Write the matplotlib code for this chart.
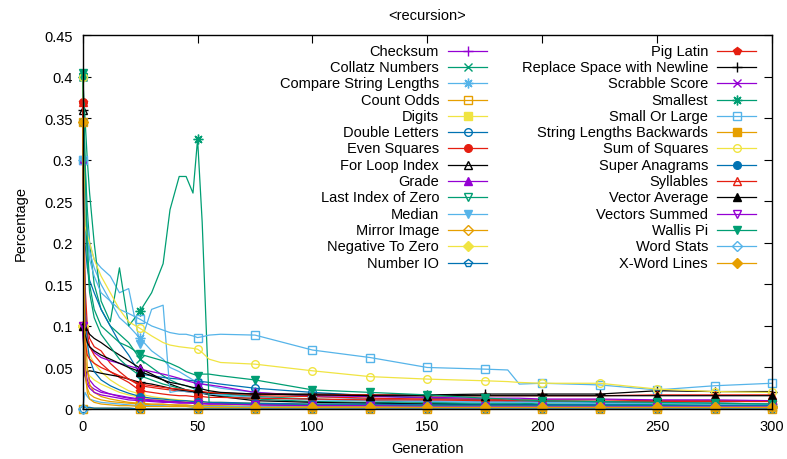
import numpy as np
import matplotlib
matplotlib.use("Agg")
import matplotlib.pyplot as plt
from matplotlib.ticker import FuncFormatter, MultipleLocator

plt.rcParams['font.family'] = ['Liberation Sans', 'DejaVu Sans']

gens = [0, 1, 2, 3, 5, 8, 12, 16, 20, 25, 30, 35, 38, 42, 45, 48, 50, 52, 55, 60,
        75, 100, 125, 150, 175, 185, 190, 200, 225, 250, 275, 300]

checksum = [0.1, 0.06, 0.045, 0.035, 0.028, 0.022, 0.018, 0.015, 0.013,
            0.011, 0.01, 0.009, 0.009, 0.008, 0.008, 0.007, 0.007, 0.007, 0.006,
            0.006, 0.005, 0.004, 0.004, 0.003, 0.003, 0.003, 0.003, 0.003, 0.003,
            0.002, 0.002, 0.002]
collatz = [0.4, 0.3, 0.24, 0.2, 0.15, 0.12, 0.1, 0.09, 0.08,
           0.06, 0.05, 0.04, 0.035, 0.03, 0.028, 0.025, 0.022, 0.02, 0.018,
           0.016, 0.012, 0.009, 0.008, 0.007, 0.006, 0.006, 0.006, 0.005, 0.005,
           0.005, 0.004, 0.004]
compare_lengths = [0.3, 0.27, 0.22, 0.19, 0.17, 0.15, 0.13, 0.11, 0.1,
                   0.085, 0.07, 0.06, 0.05, 0.045, 0.04, 0.035, 0.033, 0.03, 0.028,
                   0.025, 0.02, 0.015, 0.012, 0.01, 0.009, 0.009, 0.009, 0.008, 0.008,
                   0.007, 0.007, 0.006]
count_odds = [0.0, 0.002, 0.001, 0.001, 0.001, 0.001, 0.001, 0.001, 0.001,
              0.0, 0.0, 0.0, 0.0, 0.0, 0.0, 0.0, 0.0, 0.0, 0.0,
              0.0, 0.0, 0.0, 0.0, 0.0, 0.0, 0.0, 0.0, 0.0, 0.0,
              0.0, 0.0, 0.0]
digits = [0.1, 0.08, 0.07, 0.065, 0.055, 0.045, 0.035, 0.028, 0.022,
          0.018, 0.015, 0.013, 0.012, 0.011, 0.01, 0.01, 0.009, 0.009, 0.008,
          0.008, 0.007, 0.006, 0.005, 0.005, 0.004, 0.004, 0.004, 0.004, 0.003,
          0.003, 0.003, 0.003]
double_letters = [0.4, 0.2, 0.17, 0.155, 0.14, 0.12, 0.1, 0.08, 0.065,
                  0.042, 0.04, 0.038, 0.037, 0.036, 0.035, 0.034, 0.033, 0.033, 0.032,
                  0.03, 0.025, 0.02, 0.016, 0.013, 0.011, 0.01, 0.01, 0.009, 0.008,
                  0.007, 0.007, 0.006]
even_squares = [0.37, 0.15, 0.1, 0.085, 0.075, 0.07, 0.055, 0.045, 0.036,
                0.028, 0.026, 0.024, 0.023, 0.022, 0.021, 0.02, 0.02, 0.019, 0.018,
                0.018, 0.016, 0.015, 0.013, 0.012, 0.012, 0.011, 0.011, 0.011, 0.011,
                0.01, 0.01, 0.01]
for_loop = [0.36, 0.1, 0.095, 0.09, 0.085, 0.08, 0.072, 0.065, 0.058,
            0.049, 0.042, 0.035, 0.03, 0.026, 0.023, 0.021, 0.02, 0.019, 0.017,
            0.015, 0.01, 0.008, 0.007, 0.006, 0.005, 0.005, 0.005, 0.005, 0.004,
            0.004, 0.004, 0.004]
grade = [0.3, 0.12, 0.09, 0.075, 0.068, 0.062, 0.058, 0.055, 0.052,
         0.048, 0.045, 0.042, 0.04, 0.037, 0.034, 0.032, 0.03, 0.03, 0.029,
         0.027, 0.02, 0.016, 0.015, 0.014, 0.013, 0.013, 0.013, 0.012, 0.012,
         0.011, 0.011, 0.01]
last_index_zero = [0.4, 0.25, 0.18, 0.14, 0.11, 0.09, 0.075, 0.06, 0.05,
                   0.04, 0.035, 0.03, 0.028, 0.025, 0.023, 0.022, 0.021, 0.02, 0.019,
                   0.018, 0.015, 0.012, 0.01, 0.008, 0.007, 0.007, 0.007, 0.006, 0.006,
                   0.005, 0.005, 0.005]
median = [0.3, 0.25, 0.22, 0.2, 0.18, 0.17, 0.16, 0.14, 0.145,
          0.078, 0.12, 0.125, 0.02, 0.022, 0.021, 0.02, 0.02, 0.019, 0.018,
          0.017, 0.014, 0.011, 0.01, 0.009, 0.008, 0.008, 0.008, 0.008, 0.007,
          0.007, 0.006, 0.006]
mirror_image = [0.1, 0.04, 0.025, 0.018, 0.014, 0.011, 0.009, 0.008, 0.007,
                0.006, 0.005, 0.005, 0.005, 0.004, 0.004, 0.004, 0.004, 0.004, 0.004,
                0.003, 0.003, 0.003, 0.002, 0.002, 0.002, 0.002, 0.002, 0.002, 0.002,
                0.002, 0.002, 0.002]
negative_to_zero = [0.1, 0.06, 0.045, 0.04, 0.035, 0.03, 0.025, 0.02, 0.017,
                    0.014, 0.012, 0.011, 0.01, 0.009, 0.009, 0.008, 0.008, 0.008, 0.007,
                    0.007, 0.006, 0.005, 0.005, 0.004, 0.004, 0.004, 0.004, 0.004, 0.003,
                    0.003, 0.003, 0.003]
number_io = [0.0, 0.003, 0.002, 0.002, 0.001, 0.001, 0.001, 0.001, 0.001,
             0.0, 0.0, 0.0, 0.0, 0.0, 0.0, 0.0, 0.0, 0.0, 0.0,
             0.0, 0.0, 0.0, 0.0, 0.0, 0.0, 0.0, 0.0, 0.0, 0.0,
             0.0, 0.0, 0.0]
pig_latin = [0.37, 0.12, 0.09, 0.075, 0.065, 0.055, 0.045, 0.038, 0.032,
             0.022, 0.02, 0.018, 0.017, 0.016, 0.016, 0.015, 0.015, 0.015, 0.014,
             0.014, 0.013, 0.012, 0.011, 0.011, 0.01, 0.01, 0.01, 0.01, 0.009,
             0.009, 0.009, 0.009]
replace_space = [0.36, 0.04, 0.045, 0.046, 0.045, 0.043, 0.041, 0.039, 0.036,
                 0.032, 0.03, 0.027, 0.025, 0.023, 0.022, 0.021, 0.02, 0.02, 0.019,
                 0.019, 0.018, 0.018, 0.017, 0.017, 0.018, 0.018, 0.018, 0.018, 0.018,
                 0.022, 0.021, 0.021]
scrabble_score = [0.1, 0.05, 0.035, 0.028, 0.024, 0.02, 0.018, 0.016, 0.014,
                  0.012, 0.011, 0.01, 0.009, 0.009, 0.008, 0.008, 0.008, 0.007, 0.007,
                  0.007, 0.006, 0.005, 0.005, 0.004, 0.004, 0.004, 0.004, 0.004, 0.004,
                  0.003, 0.003, 0.003]
smallest = [0.4, 0.35, 0.3, 0.26, 0.2, 0.13, 0.105, 0.17, 0.1,
            0.118, 0.14, 0.175, 0.24, 0.28, 0.28, 0.26, 0.325, 0.225, 0.008,
            0.007, 0.006, 0.005, 0.005, 0.004, 0.004, 0.004, 0.004, 0.004, 0.004,
            0.004, 0.004, 0.004]
small_or_large = [0.3, 0.26, 0.21, 0.18, 0.16, 0.14, 0.13, 0.12, 0.115,
                  0.108, 0.1, 0.095, 0.092, 0.09, 0.09, 0.088, 0.086, 0.087, 0.089,
                  0.09, 0.089, 0.071, 0.062, 0.05, 0.048, 0.047, 0.03, 0.031, 0.029,
                  0.023, 0.028, 0.031]
string_lengths_back = [0.345, 0.1, 0.05, 0.03, 0.02, 0.015, 0.012, 0.01, 0.008,
                       0.007, 0.006, 0.006, 0.005, 0.005, 0.005, 0.004, 0.004, 0.004, 0.004,
                       0.004, 0.003, 0.003, 0.003, 0.003, 0.003, 0.003, 0.003, 0.003, 0.002,
                       0.002, 0.002, 0.002]
sum_of_squares = [0.4, 0.22, 0.21, 0.2, 0.18, 0.16, 0.14, 0.12, 0.105,
                  0.097, 0.088, 0.08, 0.077, 0.075, 0.074, 0.073, 0.072, 0.068, 0.06,
                  0.056, 0.054, 0.046, 0.039, 0.036, 0.034, 0.033, 0.032, 0.031, 0.031,
                  0.024, 0.021, 0.02]
super_anagrams = [0.345, 0.12, 0.08, 0.06, 0.045, 0.035, 0.028, 0.023, 0.019,
                  0.015, 0.013, 0.012, 0.011, 0.01, 0.01, 0.009, 0.009, 0.009, 0.008,
                  0.008, 0.007, 0.006, 0.006, 0.005, 0.005, 0.005, 0.005, 0.005, 0.005,
                  0.004, 0.004, 0.004]
syllables = [0.37, 0.08, 0.065, 0.06, 0.055, 0.05, 0.045, 0.04, 0.036,
             0.03, 0.028, 0.026, 0.025, 0.024, 0.023, 0.022, 0.021, 0.021, 0.02,
             0.019, 0.018, 0.017, 0.017, 0.016, 0.016, 0.016, 0.016, 0.016, 0.016,
             0.017, 0.017, 0.017]
vector_average = [0.1, 0.09, 0.08, 0.075, 0.07, 0.065, 0.06, 0.055, 0.05,
                  0.045, 0.04, 0.035, 0.032, 0.03, 0.028, 0.026, 0.025, 0.024, 0.022,
                  0.02, 0.018, 0.017, 0.016, 0.016, 0.016, 0.016, 0.016, 0.016, 0.016,
                  0.016, 0.016, 0.016]
vectors_summed = [0.1, 0.04, 0.03, 0.025, 0.02, 0.017, 0.015, 0.013, 0.011,
                  0.01, 0.009, 0.008, 0.008, 0.007, 0.007, 0.007, 0.006, 0.006, 0.006,
                  0.006, 0.005, 0.004, 0.004, 0.003, 0.003, 0.003, 0.003, 0.003, 0.003,
                  0.003, 0.003, 0.003]
wallis_pi = [0.405, 0.3, 0.2, 0.15, 0.12, 0.1, 0.09, 0.08, 0.075,
             0.066, 0.062, 0.058, 0.055, 0.05, 0.045, 0.042, 0.04, 0.042, 0.042,
             0.04, 0.035, 0.023, 0.02, 0.017, 0.013, 0.012, 0.011, 0.01, 0.009,
             0.008, 0.007, 0.006]
word_stats = [0.0, 0.02, 0.015, 0.012, 0.01, 0.008, 0.007, 0.006, 0.005,
              0.004, 0.004, 0.004, 0.003, 0.003, 0.003, 0.003, 0.003, 0.003, 0.003,
              0.003, 0.003, 0.002, 0.002, 0.002, 0.002, 0.002, 0.002, 0.002, 0.002,
              0.002, 0.002, 0.002]
x_word_lines = [0.345, 0.05, 0.02, 0.012, 0.008, 0.006, 0.005, 0.004, 0.004,
                0.003, 0.003, 0.003, 0.003, 0.003, 0.003, 0.002, 0.002, 0.002, 0.002,
                0.002, 0.002, 0.002, 0.002, 0.002, 0.002, 0.002, 0.002, 0.002, 0.002,
                0.002, 0.002, 0.002]

problems = ["Checksum", "Collatz Numbers", "Compare String Lengths", "Count Odds",
            "Digits", "Double Letters", "Even Squares", "For Loop Index", "Grade",
            "Last Index of Zero", "Median", "Mirror Image", "Negative To Zero",
            "Number IO", "Pig Latin", "Replace Space with Newline", "Scrabble Score",
            "Smallest", "Small Or Large", "String Lengths Backwards", "Sum of Squares",
            "Super Anagrams", "Syllables", "Vector Average", "Vectors Summed",
            "Wallis Pi", "Word Stats", "X-Word Lines"]
series = [checksum, collatz, compare_lengths, count_odds, digits, double_letters,
          even_squares, for_loop, grade, last_index_zero, median, mirror_image,
          negative_to_zero, number_io, pig_latin, replace_space, scrabble_score,
          smallest, small_or_large, string_lengths_back, sum_of_squares,
          super_anagrams, syllables, vector_average, vectors_summed, wallis_pi,
          word_stats, x_word_lines]

# gnuplot default colour and point-type cycles
colors = ['#9400D3', '#009E73', '#56B4E9', '#E69F00',
          '#F0E442', '#0072B2', '#E51E10', '#000000']
points = [('+', True), ('x', True), ((8, 2, 0), True), ('s', False), ('s', True),
          ('o', False), ('o', True), ('^', False), ('^', True), ('v', False),
          ('v', True), ('D', False), ('D', True), ('p', False), ('p', True)]
msizes = {'+': 7, 'x': 6, 's': 5.5, 'o': 5.5, '^': 6, 'v': 6, 'D': 5, 'p': 6}

fig = plt.figure(figsize=(7.87, 4.60), dpi=100)
ax = fig.add_axes([82.7 / 787, 1 - 410 / 460, 689.3 / 787, 373.7 / 460])

gens_arr = np.array(gens)
mark_idx = [i for i, g in enumerate(gens) if g % 25 == 0]


def style(i):
    c = colors[i % 8]
    m, filled = points[i % 15]
    key = m if isinstance(m, str) else '+'
    kw = dict(color=c, marker=m, markersize=msizes[key], markeredgewidth=1.0,
              markeredgecolor=c, markerfacecolor=c if filled else 'none')
    return kw


for i, vals in enumerate(series):
    ax.plot(gens_arr, vals, linewidth=0.9, markevery=mark_idx, clip_on=False,
            zorder=2 + i * 0.01, **style(i))

ax.set_xlim(0, 300)
ax.set_ylim(0, 0.45)
ax.xaxis.set_major_locator(MultipleLocator(50))
ax.yaxis.set_major_locator(MultipleLocator(0.05))
ax.yaxis.set_major_formatter(FuncFormatter(lambda v, p: '%g' % round(v, 2)))
ax.tick_params(direction='in', length=6, width=0.8, top=True, right=True,
               labelsize=10.5, pad=7)
for sp in ax.spines.values():
    sp.set_linewidth(1.0)
    sp.set_zorder(5)

ax.set_xlabel('Generation', fontsize=10.5, labelpad=6)
ax.set_ylabel('Percentage', fontsize=10.5, labelpad=12)
ax.set_title('<recursion>', fontsize=10.5, pad=12)

# key drawn gnuplot style: right-aligned text, sample line to the right
text_x = [0.517, 0.907]
line_x = [(0.5305, 0.587), (0.920, 0.977)]
row0 = 0.9588
row_step = 16.3 / 373.7
for i, name in enumerate(problems):
    col = i // 14
    row = i % 14
    y = row0 - row * row_step
    ax.text(text_x[col], y, name, transform=ax.transAxes, ha='right', va='center',
            fontsize=10.5, zorder=6)
    x0, x1 = line_x[col]
    kw = style(i)
    ax.plot([x0, x1], [y, y], transform=ax.transAxes, color=kw['color'],
            linewidth=0.9, clip_on=False, zorder=6)
    ax.plot([(x0 + x1) / 2], [y], transform=ax.transAxes, linestyle='none',
            clip_on=False, zorder=6, **kw)

fig.savefig('out.png', dpi=100)
